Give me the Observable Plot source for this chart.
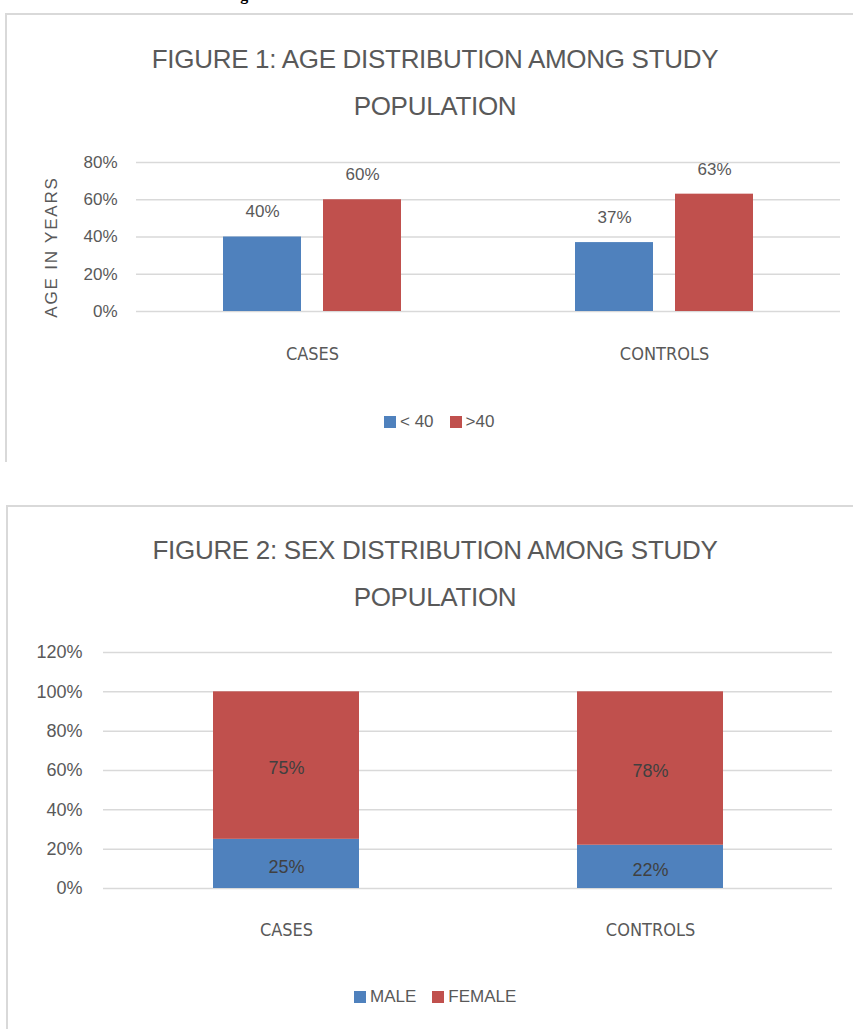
<!DOCTYPE html>
<html><head><meta charset="utf-8">
<script src="https://cdn.jsdelivr.net/npm/d3@7"></script>
<script src="https://cdn.jsdelivr.net/npm/@observablehq/plot@0.6"></script>
<style>
html,body{margin:0;padding:0;background:#fff;}
body{width:853px;height:1029px;overflow:hidden;position:relative;font-family:"Liberation Sans",Arial,sans-serif;color:#595959;}
.panel{position:absolute;border-top:2px solid #d9d9d9;border-left:2px solid #d9d9d9;box-sizing:border-box;}
.title{position:absolute;left:0;width:870px;text-align:center;font-size:26px;line-height:47px;color:#595959;letter-spacing:-0.3px;white-space:nowrap;}
.chart{position:absolute;left:0;}
.legend{position:absolute;display:flex;align-items:center;font-size:17px;color:#595959;white-space:nowrap;}
.sw{display:inline-block;width:12px;height:12px;margin-right:4px;}
.gap{display:inline-block;width:16px;}
.ylab{position:absolute;transform:translate(-50%,-50%) rotate(-90deg);font-size:17px;letter-spacing:1.8px;color:#595959;white-space:nowrap;}
.cut{position:absolute;left:226px;top:-14px;font-family:"Liberation Serif",serif;font-weight:bold;font-size:16px;color:#000;}
</style></head>
<body>
<div class="cut">Figures</div>
<div class="panel" style="left:5px;top:13px;width:860px;height:449px;"></div>
<div class="panel" style="left:6px;top:505px;width:860px;height:540px;"></div>
<div class="title" style="top:36px;">FIGURE 1: AGE DISTRIBUTION AMONG STUDY<br>POPULATION</div>
<div class="title" style="top:527px;">FIGURE 2: SEX DISTRIBUTION AMONG STUDY<br>POPULATION</div>
<div class="ylab" style="left:52px;top:247px;">AGE IN YEARS</div>
<div id="fig1" class="chart" style="top:140px;"></div>
<div id="fig2" class="chart" style="top:630px;"></div>
<div id="leg1" class="legend" style="left:384px;top:412px;"></div>
<div id="leg2" class="legend" style="left:354px;top:987px;"></div>
<script>
// ---- data ----
const ageGroups = ["CASES", "CONTROLS"];
const ageSeries = ["< 40", ">40"];
const ageUnder40 = [40, 37];
const ageOver40 = [60, 63];
const ageTicks = [0, 20, 40, 60, 80];

const sexGroups = ["CASES", "CONTROLS"];
const sexSeries = ["MALE", "FEMALE"];
const sexMale = [25, 22];
const sexFemale = [75, 78];
const sexTicks = [0, 20, 40, 60, 80, 100, 120];

const seriesColors = ["#4F81BD", "#C0504D"];

const ageData = ageGroups.flatMap((g, i) => [
  {group: g, series: ageSeries[0], value: ageUnder40[i]},
  {group: g, series: ageSeries[1], value: ageOver40[i]}
]);
const sexData = sexGroups.flatMap((g, i) => [
  {group: g, series: sexSeries[0], value: sexMale[i]},
  {group: g, series: sexSeries[1], value: sexFemale[i]}
]);

const pct = d => d + "%";
const baseStyle = {fontFamily: "'Liberation Sans', Arial, sans-serif", fontSize: "17px", color: "#595959", background: "transparent", overflow: "visible"};

const fig1 = Plot.plot({
  width: 853, height: 227,
  marginLeft: 136, marginRight: 13, marginTop: 22, marginBottom: 56,
  style: baseStyle,
  fx: {domain: ageGroups, padding: 0, label: null},
  x: {domain: ageSeries, paddingInner: 0.22, paddingOuter: 0.87},
  y: {domain: [0, 80], label: null},
  color: {domain: ageSeries, range: seriesColors},
  marks: [
    Plot.ruleY(ageTicks, {stroke: "#d9d9d9", strokeWidth: 1.5}),
    Plot.barY(ageData, {fx: "group", x: "series", y: "value", fill: "series"}),
    Plot.text(ageData, {fx: "group", x: "series", y: "value", text: d => pct(d.value), dy: -25, fill: "#595959", fontSize: 17}),
    Plot.axisY({ticks: ageTicks, tickFormat: pct, tickSize: 0, tickPadding: 19, label: null, fontSize: 17}),
    Plot.axisFx({anchor: "bottom", tickSize: 0, tickPadding: 36, label: null, fontSize: 18, fontFamily: "'Liberation Sans Narrow', 'DejaVu Sans Condensed', sans-serif"}),
    Plot.axisX({ticks: [], label: null, tickSize: 0})
  ]
});
document.getElementById("fig1").appendChild(fig1);

const fig2 = Plot.plot({
  width: 853, height: 313,
  marginLeft: 103, marginRight: 21, marginTop: 22, marginBottom: 55,
  style: baseStyle,
  x: {domain: sexGroups, paddingInner: 0.6, paddingOuter: 0.3, label: null},
  y: {domain: [0, 120], label: null},
  color: {domain: sexSeries, range: seriesColors},
  marks: [
    Plot.ruleY(sexTicks, {stroke: "#d9d9d9", strokeWidth: 1.5}),
    Plot.barY(sexData, {x: "group", y: "value", fill: "series"}),
    Plot.text(sexData, Plot.stackY({x: "group", y: "value", text: d => pct(d.value), fill: "#404040", fontSize: 18, dy: 3})),
    Plot.axisY({ticks: sexTicks, tickFormat: pct, tickSize: 0, tickPadding: 21, label: null, fontSize: 18}),
    Plot.axisX({tickSize: 0, tickPadding: 35, label: null, fontSize: 18, fontFamily: "'Liberation Sans Narrow', 'DejaVu Sans Condensed', sans-serif"})
  ]
});
document.getElementById("fig2").appendChild(fig2);

function legend(id, names) {
  const el = document.getElementById(id);
  names.forEach((n, i) => {
    if (i > 0) { const g = document.createElement("span"); g.className = "gap"; el.appendChild(g); }
    const s = document.createElement("span"); s.className = "sw"; s.style.background = seriesColors[i]; el.appendChild(s);
    const t = document.createElement("span"); t.textContent = n; el.appendChild(t);
  });
}
legend("leg1", ageSeries);
legend("leg2", sexSeries);
</script>
</body></html>
